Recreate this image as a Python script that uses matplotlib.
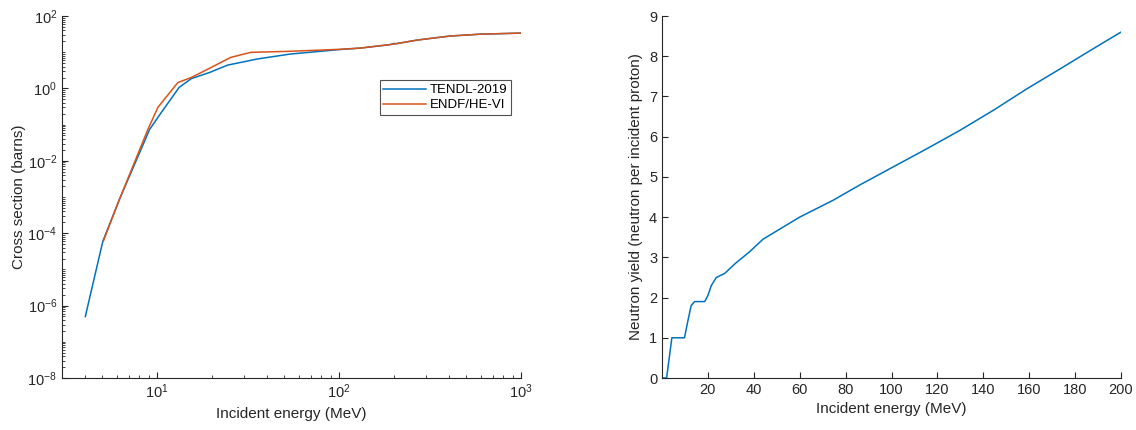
import numpy as np
import matplotlib
matplotlib.use("Agg")
from matplotlib import pyplot as plt
from matplotlib.ticker import LogLocator, FixedLocator, NullFormatter

plt.rcParams['font.family'] = ['Liberation Sans', 'DejaVu Sans']
plt.rcParams['mathtext.fontset'] = 'custom'
plt.rcParams['mathtext.rm'] = 'Liberation Sans'

# cross section data (MeV, barns)
tendl_E = [4.03, 5.03, 6.2, 9.1, 10.5, 13.2, 15.4, 19.4, 24.4, 35.6, 54, 86, 100, 131,
           190, 200, 207, 270, 408, 600, 1000]
tendl_xs = [5e-7, 6e-5, 8.5e-4, 0.074, 0.21, 1.06, 1.86, 2.75, 4.4, 6.5, 8.9, 11.0, 11.8, 13.0,
            16.1, 17.4, 17.2, 21.7, 28.0, 31.5, 33.7]
endf_E = [5.06, 6.2, 8.9, 10.1, 13.0, 15.4, 19.0, 25.4, 32.7, 54, 100, 131, 199, 270, 408, 600, 1000]
endf_xs = [6e-5, 8.5e-4, 0.074, 0.30, 1.45, 2.0, 3.4, 7.2, 9.9, 10.6, 12.0, 13.0, 16.7, 21.7, 28.0,
           31.5, 33.7]

# neutron yield data
yield_E = [0, 2.0, 4.3, 9.8, 11.2, 12.7, 14.2, 18.6, 20.0, 21.5, 23.7, 27.3, 32, 38.2, 44, 60,
           74.6, 86.2, 100.8, 115.4, 129.9, 144.5, 159, 173.6, 188, 200]
yield_n = [0, 0, 1.0, 1.0, 1.4, 1.8, 1.9, 1.9, 2.05, 2.3, 2.5, 2.6, 2.85, 3.14, 3.45, 4.0,
           4.42, 4.8, 5.25, 5.7, 6.16, 6.66, 7.19, 7.69, 8.19, 8.6]

blue = '#0072BD'
orange = '#D95319'
axcol = '#262626'

fig = plt.figure(figsize=(11.36, 4.30), dpi=100)
ax1 = fig.add_axes([62/1136, 52/430, 459/1136, 362/430])
ax2 = fig.add_axes([662/1136, 52/430, 459/1136, 362/430])

for ax in (ax1, ax2):
    ax.spines['top'].set_visible(False)
    ax.spines['right'].set_visible(False)
    for s in ('left', 'bottom'):
        ax.spines[s].set_color(axcol)
        ax.spines[s].set_linewidth(0.8)
    ax.tick_params(which='both', direction='in', colors=axcol, labelsize=10.5)
    ax.tick_params(which='major', length=4)
    ax.tick_params(which='minor', length=2)

ax1.plot(tendl_E, tendl_xs, color=blue, lw=1.1, label='TENDL-2019')
ax1.plot(endf_E, endf_xs, color=orange, lw=1.1, label='ENDF/HE-VI')
ax1.set_xscale('log')
ax1.set_yscale('log')
ax1.set_xlim(3, 1000)
ax1.set_ylim(1e-8, 1e2)
ax1.yaxis.set_major_locator(FixedLocator([1e-8, 1e-6, 1e-4, 1e-2, 1e0, 1e2]))
ax1.yaxis.set_minor_locator(LogLocator(base=10, subs=np.arange(1, 10), numticks=30))
ax1.yaxis.set_minor_formatter(NullFormatter())
ax1.xaxis.set_major_locator(FixedLocator([10, 100, 1000]))
ax1.xaxis.set_minor_locator(LogLocator(base=10, subs=np.arange(2, 10), numticks=30))
ax1.xaxis.set_minor_formatter(NullFormatter())
ax1.set_xlabel('Incident energy (MeV)', fontsize=11, color=axcol)
ax1.set_ylabel('Cross section (barns)', fontsize=11, color=axcol, labelpad=1)
leg = ax1.legend(loc='upper left', bbox_to_anchor=(0.686, 0.83), fontsize=9.5, frameon=True,
                 fancybox=False, edgecolor=axcol, handlelength=3.2, borderpad=0.3,
                 labelspacing=0.2, handletextpad=0.3, borderaxespad=0.2)
leg.get_frame().set_linewidth(0.8)

ax2.plot(yield_E, yield_n, color=blue, lw=1.1)
ax2.set_xlim(0, 200)
ax2.set_ylim(0, 9)
ax2.set_xticks(np.arange(20, 201, 20))
ax2.set_yticks(np.arange(0, 10, 1))
ax2.set_xlabel('Incident energy (MeV)', fontsize=11, color=axcol)
ax2.set_ylabel('Neutron yield (neutron per incident proton)', fontsize=11, color=axcol)

fig.savefig('out.png', dpi=100)
